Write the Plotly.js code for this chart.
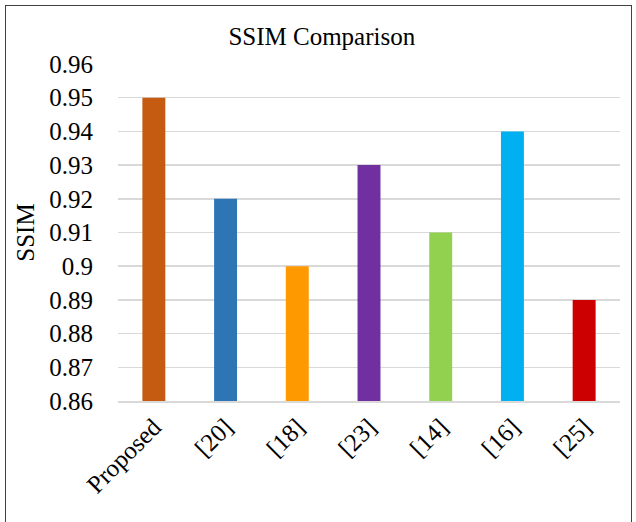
<!DOCTYPE html>
<html>
<head>
<meta charset="utf-8">
<script src="https://cdn.plot.ly/plotly-3.0.1.min.js"></script>
<style>
html,body{margin:0;padding:0;background:#fff;}
#frame{position:absolute;left:5px;top:5px;width:627px;height:530px;border:1.5px solid #404040;box-sizing:border-box;}
#chart{position:absolute;left:0;top:0;width:636px;height:522px;}
</style>
</head>
<body>
<div id="frame"></div>
<div id="chart"></div>
<script>
const categories = ["Proposed", "[20]", "[18]", "[23]", "[14]", "[16]", "[25]"];
const ssimValues = [0.95, 0.92, 0.90, 0.93, 0.91, 0.94, 0.89];
const barColors = ["#C55A11", "#2E75B6", "#FF9900", "#7030A0", "#92D050", "#00B0F0", "#CC0000"];
const yTicks = [0.86, 0.87, 0.88, 0.89, 0.9, 0.91, 0.92, 0.93, 0.94, 0.95, 0.96];
const yTickText = ["0.86", "0.87", "0.88", "0.89", "0.9", "0.91", "0.92", "0.93", "0.94", "0.95", "0.96"];

const font = "Liberation Serif, Times New Roman, serif";

Plotly.newPlot("chart", [{
  type: "bar",
  x: categories,
  y: ssimValues,
  base: 0,
  marker: {color: barColors},
  width: 0.32,
  hoverinfo: "x+y"
}], {
  width: 636,
  height: 522,
  paper_bgcolor: "rgba(0,0,0,0)",
  plot_bgcolor: "rgba(0,0,0,0)",
  margin: {l: 118, r: 16, t: 64, b: 121},
  showlegend: false,
  title: {
    text: "SSIM Comparison",
    font: {family: font, size: 25, color: "#000"},
    x: 0.506, xanchor: "center",
    y: 0.93, yanchor: "middle"
  },
  xaxis: {
    type: "category",
    tickangle: -45,
    tickfont: {family: font, size: 25, color: "#000"},
    showline: true,
    linecolor: "#D9D9D9",
    linewidth: 1.5,
    showgrid: false,
    ticks: "",
    fixedrange: true
  },
  yaxis: {
    range: [0.86, 0.96],
    tickvals: yTicks,
    ticktext: yTickText,
    tickfont: {family: font, size: 25, color: "#000"},
    showgrid: true,
    gridcolor: "#D9D9D9",
    gridwidth: 1.5,
    zeroline: false,
    ticks: "",
    ticklabelstandoff: 24,
    title: {text: "SSIM", font: {family: font, size: 25, color: "#000"}, standoff: 7},
    fixedrange: true
  }
}, {displayModeBar: false, staticPlot: true});
</script>
</body>
</html>
